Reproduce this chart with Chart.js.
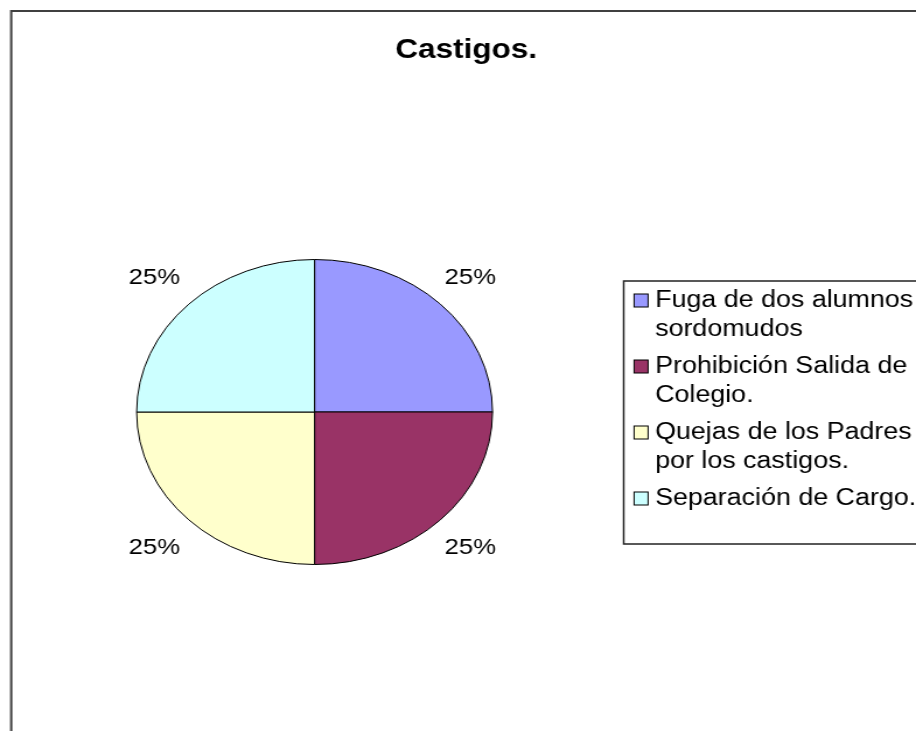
<!DOCTYPE html>
<html>
<head>
<meta charset="utf-8">
<script src="https://cdn.jsdelivr.net/npm/chart.js@4.4.1/dist/chart.umd.min.js"></script>
<style>
  html, body { margin: 0; padding: 0; background: #fff; }
</style>
</head>
<body>
<!-- el original está estirado a lo ancho: se dibuja a 785 y el css lo lleva a 916 -->
<canvas id="grafico" width="785" height="731" style="display:block;width:916px;height:731px"></canvas>
<script>
const titulo = 'Castigos.';
const categorias = [
  ['Fuga de dos alumnos', 'sordomudos'],
  ['Prohibición Salida de', 'Colegio.'],
  ['Quejas de los Padres', 'por los castigos.'],
  ['Separación de Cargo.'],
];
const valores = [25, 25, 25, 25];
const colores = ['#9999FF', '#993366', '#FFFFCC', '#CCFFFF'];

const FUENTE = '"Liberation Sans", Arial, sans-serif';

const decorado = {
  id: 'decorado',
  beforeDraw(chart) {
    const ctx = chart.ctx;
    ctx.save();
    ctx.fillStyle = '#fff';
    ctx.fillRect(0, 0, chart.width, chart.height);
    // marco exterior (se sale por la derecha y por abajo)
    ctx.strokeStyle = '#404040';
    ctx.lineWidth = 2;
    ctx.strokeRect(9.6, 11, 900, 800);
    ctx.restore();
  },
  afterDraw(chart) {
    const ctx = chart.ctx;
    ctx.save();

    // título
    ctx.fillStyle = '#000';
    ctx.font = `bold 27px ${FUENTE}`;
    ctx.textAlign = 'center';
    ctx.textBaseline = 'alphabetic';
    ctx.fillText(titulo, 399.5, 58);

    // porcentajes fuera de cada sector
    const total = valores.reduce((a, b) => a + b, 0);
    const meta = chart.getDatasetMeta(0);
    ctx.font = `22px ${FUENTE}`;
    ctx.textBaseline = 'middle';
    meta.data.forEach((arc, i) => {
      const { x, y, startAngle, endAngle, outerRadius } =
        arc.getProps(['x', 'y', 'startAngle', 'endAngle', 'outerRadius'], true);
      const medio = (startAngle + endAngle) / 2;
      const dist = outerRadius + 39;
      const pct = Math.round((valores[i] / total) * 100) + '%';
      ctx.fillText(pct, x + Math.cos(medio) * dist - 2, y + Math.sin(medio) * dist + 1);
    });

    // leyenda
    ctx.strokeStyle = '#222';
    ctx.lineWidth = 1.5;
    ctx.strokeRect(534.5, 281, 400, 263);

    ctx.font = `23px ${FUENTE}`;
    ctx.textAlign = 'left';
    ctx.textBaseline = 'alphabetic';
    let base = 307;
    categorias.forEach((lineas, i) => {
      ctx.fillStyle = colores[i];
      ctx.fillRect(543.4, base - 13, 12, 13);
      ctx.strokeStyle = '#000';
      ctx.lineWidth = 1;
      ctx.strokeRect(543.4, base - 13, 12, 13);
      ctx.fillStyle = '#000';
      lineas.forEach((linea, j) => {
        ctx.fillText(linea, 561.4, base + j * 29);
      });
      base += 66;
    });

    ctx.restore();
  },
};

new Chart(document.getElementById('grafico'), {
  type: 'pie',
  data: {
    labels: categorias,
    datasets: [{
      data: valores,
      backgroundColor: colores,
      borderColor: '#000',
      borderWidth: 1,
    }],
  },
  options: {
    responsive: false,
    devicePixelRatio: 1,
    animation: false,
    layout: { padding: { left: 116.6, right: 362.4, top: 259, bottom: 166 } },
    plugins: {
      legend: { display: false },
      title: { display: false },
      tooltip: { enabled: false },
    },
  },
  plugins: [decorado],
});
</script>
</body>
</html>
